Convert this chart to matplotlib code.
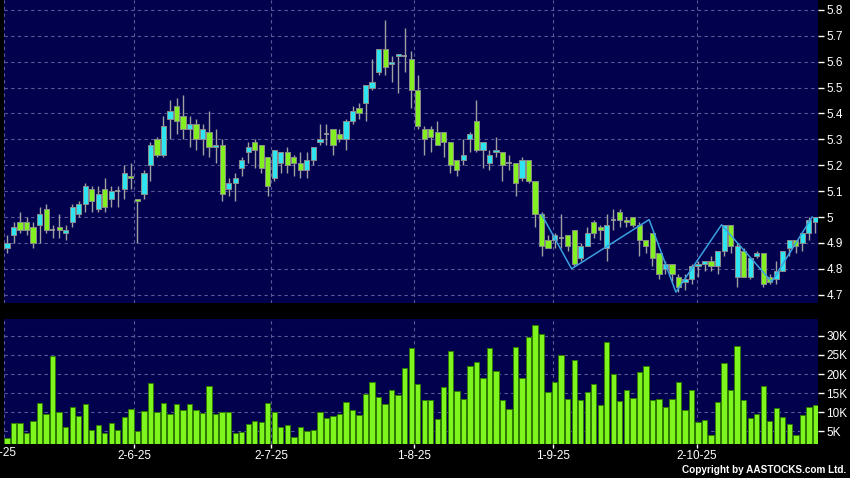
import numpy as np
import matplotlib.pyplot as plt
from matplotlib.patches import Rectangle
import matplotlib.transforms as mtransforms

# daily candles, oldest first (open, high, low, close)
opens = [4.88, 4.93, 4.98, 4.98, 4.96, 4.97, 5.03, 4.95, 4.96, 4.94,
         4.98, 5.01, 5.05, 5.11, 5.03, 5.11, 5.07, 5.10, 5.11, 5.16,
         5.07, 5.09, 5.20, 5.30, 5.24, 5.38, 5.43, 5.39, 5.34, 5.36,
         5.30, 5.33, 5.27, 5.28, 5.11, 5.13, 5.19, 5.25, 5.29, 5.28,
         5.23, 5.15, 5.21, 5.25, 5.23, 5.21, 5.18, 5.22, 5.29, 5.32,
         5.34, 5.32, 5.30, 5.37, 5.42, 5.44, 5.50, 5.56, 5.65, 5.59,
         5.62, 5.62, 5.61, 5.49, 5.34, 5.34, 5.33, 5.33, 5.29, 5.22,
         5.22, 5.30, 5.37, 5.26, 5.21, 5.25, 5.25, 5.21, 5.21, 5.15,
         5.22, 5.14, 5.01, 4.91, 4.91, 4.92, 4.93, 4.95, 4.84, 4.89,
         4.98, 4.96, 4.88, 4.99, 5.02, 4.99, 5.00, 4.97, 4.91, 4.94,
         4.86, 4.80, 4.82, 4.77, 4.75, 4.76, 4.81, 4.82, 4.83, 4.81,
         4.87, 4.97, 4.77, 4.87, 4.77, 4.85, 4.86, 4.77, 4.76, 4.79,
         4.88, 4.91, 4.90, 4.94, 4.98]
highs = [4.93, 4.98, 5.02, 5.00, 4.98, 5.04, 5.05, 4.97, 5.01, 4.97,
         5.05, 5.06, 5.13, 5.12, 5.12, 5.15, 5.12, 5.12, 5.20, 5.21,
         5.07, 5.18, 5.29, 5.31, 5.39, 5.45, 5.46, 5.47, 5.39, 5.38,
         5.36, 5.41, 5.34, 5.30, 5.15, 5.17, 5.23, 5.29, 5.30, 5.28,
         5.23, 5.26, 5.25, 5.27, 5.24, 5.25, 5.25, 5.27, 5.36, 5.36,
         5.34, 5.34, 5.38, 5.43, 5.44, 5.51, 5.61, 5.65, 5.76, 5.62,
         5.63, 5.73, 5.64, 5.55, 5.35, 5.35, 5.37, 5.33, 5.29, 5.22,
         5.30, 5.33, 5.45, 5.29, 5.26, 5.31, 5.25, 5.24, 5.21, 5.23,
         5.22, 5.14, 5.02, 4.93, 4.94, 5.01, 4.93, 4.95, 4.90, 4.96,
         4.99, 4.97, 5.01, 5.03, 5.03, 5.00, 5.00, 4.98, 4.91, 4.94,
         4.86, 4.83, 4.82, 4.78, 4.78, 4.82, 4.83, 4.83, 4.85, 4.87,
         4.97, 4.97, 4.90, 4.88, 4.84, 4.87, 4.86, 4.78, 4.83, 4.87,
         4.91, 4.91, 4.94, 5.00, 5.00]
lows = [4.86, 4.90, 4.94, 4.93, 4.88, 4.90, 4.94, 4.92, 4.92, 4.91,
        4.96, 5.00, 5.02, 5.02, 5.02, 5.02, 5.04, 5.04, 5.07, 5.11,
        4.90, 5.07, 5.14, 5.23, 5.23, 5.30, 5.32, 5.30, 5.27, 5.26,
        5.24, 5.23, 5.21, 5.06, 5.08, 5.06, 5.16, 5.21, 5.19, 5.17,
        5.08, 5.14, 5.17, 5.17, 5.16, 5.15, 5.15, 5.20, 5.28, 5.28,
        5.24, 5.29, 5.26, 5.36, 5.38, 5.37, 5.49, 5.55, 5.55, 5.52,
        5.48, 5.56, 5.42, 5.34, 5.24, 5.25, 5.28, 5.23, 5.17, 5.16,
        5.20, 5.25, 5.25, 5.19, 5.18, 5.23, 5.14, 5.18, 5.08, 5.14,
        5.13, 4.96, 4.85, 4.88, 4.88, 4.88, 4.87, 4.81, 4.83, 4.89,
        4.92, 4.91, 4.83, 4.95, 4.96, 4.96, 4.96, 4.85, 4.86, 4.81,
        4.76, 4.78, 4.75, 4.71, 4.72, 4.74, 4.77, 4.79, 4.79, 4.78,
        4.85, 4.86, 4.73, 4.77, 4.76, 4.84, 4.73, 4.74, 4.74, 4.79,
        4.85, 4.86, 4.87, 4.91, 4.94]
closes = [4.90, 4.96, 4.95, 4.95, 4.90, 5.01, 4.95, 4.95, 4.95, 4.95,
          5.04, 5.05, 5.12, 5.06, 5.09, 5.04, 5.10, 5.10, 5.17, 5.15,
          5.06, 5.17, 5.28, 5.24, 5.35, 5.41, 5.37, 5.34, 5.36, 5.30,
          5.34, 5.27, 5.28, 5.09, 5.13, 5.15, 5.22, 5.27, 5.26, 5.19,
          5.12, 5.26, 5.25, 5.20, 5.21, 5.18, 5.22, 5.27, 5.30, 5.32,
          5.28, 5.30, 5.37, 5.41, 5.40, 5.51, 5.52, 5.65, 5.58, 5.60,
          5.63, 5.62, 5.49, 5.35, 5.30, 5.31, 5.28, 5.29, 5.20, 5.18,
          5.24, 5.32, 5.26, 5.29, 5.24, 5.26, 5.20, 5.21, 5.13, 5.22,
          5.14, 5.01, 4.89, 4.88, 4.93, 4.92, 4.89, 4.82, 4.89, 4.94,
          4.94, 4.95, 4.97, 4.99, 4.99, 4.98, 4.97, 4.91, 4.89, 4.84,
          4.78, 4.82, 4.78, 4.73, 4.76, 4.81, 4.82, 4.83, 4.81, 4.87,
          4.97, 4.89, 4.89, 4.77, 4.84, 4.86, 4.74, 4.75, 4.79, 4.87,
          4.91, 4.89, 4.94, 4.99, 5.00]
# volume in thousands of shares
volume = [3.2, 7.1, 7.3, 4.7, 7.7, 12.5, 9.6, 24.6, 10.1, 6.2,
          11.4, 9.0, 12.2, 5.5, 6.7, 4.7, 7.2, 5.5, 8.8, 10.8,
          5.1, 10.3, 17.6, 10.0, 12.4, 9.5, 12.3, 10.6, 12.1, 10.7,
          9.7, 16.8, 9.5, 10.2, 10.2, 4.7, 4.9, 7.0, 7.7, 7.5,
          12.5, 10.0, 6.2, 6.6, 3.5, 6.2, 5.1, 5.5, 10.2, 8.5,
          9.0, 9.5, 12.7, 10.6, 9.2, 14.8, 17.8, 13.9, 12.1, 15.8,
          14.4, 21.7, 26.9, 17.3, 13.1, 13.1, 8.2, 16.5, 26.1, 15.7,
          13.6, 22.0, 23.2, 19.1, 26.8, 20.7, 13.2, 10.9, 27.1, 18.9,
          29.7, 32.8, 30.5, 15.4, 17.9, 25.0, 13.4, 23.7, 13.2, 15.3,
          17.5, 11.9, 28.3, 19.9, 13.0, 15.8, 13.7, 20.6, 22.2, 13.2,
          13.5, 11.4, 13.4, 17.9, 10.6, 15.8, 7.6, 8.0, 4.0, 12.7,
          22.8, 15.8, 27.4, 13.2, 8.5, 9.5, 16.8, 7.7, 11.1, 8.9,
          6.9, 4.0, 9.3, 11.3, 11.8]

# zigzag overlay (day index, price)
zz_x = [82.0, 86.6, 98.5, 102.6, 109.6, 117.3, 123.5]
zz_y = [5.01, 4.80, 4.99, 4.71, 4.97, 4.75, 5.00]

date_labels = ["2-5-25", "2-6-25", "2-7-25", "1-8-25", "1-9-25", "2-10-25"]
date_pos = [-1.2, 19.5, 40.5, 62.4, 83.7, 105.8]

price_ticks = [4.7, 4.8, 4.9, 5.0, 5.1, 5.2, 5.3, 5.4, 5.5, 5.6, 5.7, 5.8]
vol_ticks = [5, 10, 15, 20, 25, 30]

NAVY = '#01014e'
GRID = '#5a5a96'
UP = '#2ee4f0'
DOWN = '#82f020'
EDGE = '#8c8c8c'
WIDTH = 0.8
XLIM = (-0.46, 124.4)

plt.rcParams['font.family'] = ['Liberation Sans', 'DejaVu Sans']

fig = plt.figure(figsize=(8.5, 4.78), dpi=100, facecolor='black')
ax = fig.add_axes([4 / 850, 1 - 303 / 478, 814 / 850, 303 / 478])
axv = fig.add_axes([4 / 850, 1 - 443.5 / 478, 814 / 850, 124.5 / 478])

for a in (ax, axv):
    a.set_facecolor(NAVY)
    for s in a.spines.values():
        s.set_visible(False)
    a.set_xlim(*XLIM)
    a.yaxis.tick_right()
    a.tick_params(axis='y', colors='white', labelsize=8.5, length=4, width=1, pad=2)
    for gx in [-0.42] + date_pos[1:]:
        a.axvline(gx, color=GRID, lw=0.8, ls=(0, (3, 3)), zorder=0)

# price panel
ax.set_ylim(4.668, 5.838)
ax.set_yticks(price_ticks)
ax.set_yticklabels(['%g' % t for t in price_ticks])
ax.set_xticks([])
for t in price_ticks:
    ax.axhline(t, color=GRID, lw=0.8, ls=(0, (3, 3)), zorder=0)

for i in range(len(opens)):
    o, h, l, c = opens[i], highs[i], lows[i], closes[i]
    ax.vlines(i, l, h, color='#a0a0a0', lw=1, zorder=2)
    if abs(c - o) < 0.005:
        ax.hlines(o, i - WIDTH / 2, i + WIDTH / 2, color='#a0a0a0', lw=1.2, zorder=3)
        continue
    col = UP if c > o else DOWN
    ax.add_patch(Rectangle((i - WIDTH / 2, min(o, c)), WIDTH, abs(c - o),
                           facecolor=col, edgecolor=EDGE, lw=0.7, zorder=3))

ax.plot(zz_x, zz_y, color='#3aa0e0', lw=1.1, zorder=4)

# volume panel
axv.set_ylim(1.85, 34.4)
axv.set_yticks(vol_ticks)
axv.set_yticklabels(['%dK' % v for v in vol_ticks])
for v in vol_ticks:
    axv.axhline(v, color=GRID, lw=0.8, ls=(0, (3, 3)), zorder=0)
axv.bar(np.arange(len(volume)), volume, width=0.82, bottom=0, color='#7ef51e',
        edgecolor='#2f7a00', lw=0.7, zorder=3)

axv.set_xticks(date_pos[1:])
axv.set_xticklabels(date_labels[1:])
axv.tick_params(axis='x', colors='white', labelsize=8.5, length=3, width=1, pad=2)
trans = mtransforms.blended_transform_factory(axv.transData, axv.transAxes)
axv.text(date_pos[0], -0.032, date_labels[0], transform=trans, color='white',
         fontsize=8.5, ha='center', va='top', clip_on=False)

fig.text(0.995, 0.017, 'Copyright by AASTOCKS.com Ltd.', color='white',
         fontsize=7.2, fontweight='bold', ha='right', va='center')

fig.savefig('out.png', dpi=100, facecolor='black')
